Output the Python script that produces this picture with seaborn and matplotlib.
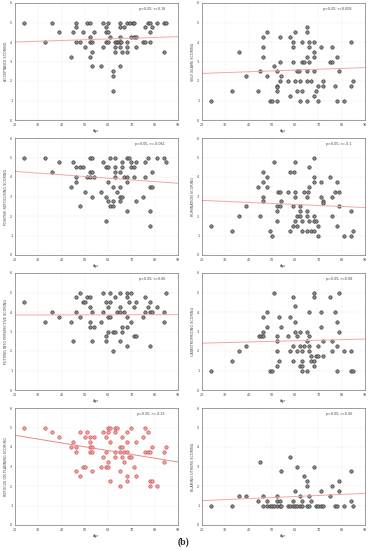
import matplotlib
matplotlib.use("Agg")
import matplotlib.pyplot as plt
import seaborn as sns
import numpy as np
import pandas as pd

# scores: score level -> ages of the respondents at that level
acceptance = {
    5.0: [24, 36, 46, 51, 52, 58, 60, 65, 68, 69.5, 70.5, 71, 77, 78, 81, 84, 85],
    4.75: [46, 59, 65, 67, 76, 79],
    4.5: [39, 45, 49, 54, 59, 60, 78],
    4.25: [52, 61, 65, 70, 71, 72],
    4.0: [33, 46, 48, 52, 53, 59, 60, 63, 63.6, 64.3, 65, 65.7, 68, 75, 76, 78],
    3.75: [50, 58, 63, 65, 68, 72],
    3.5: [53, 63, 66, 68, 84],
    3.25: [44, 52],
    2.75: [53, 57, 65],
    2.5: [62],
    2.25: [62],
    1.5: [62],
}
self_blame = {
    4.75: [65],
    4.5: [48, 60, 65],
    4.25: [46, 53.5, 58],
    4.0: [59, 63, 66, 68, 84],
    3.75: [46, 59, 66, 71, 76],
    3.5: [36, 68],
    3.25: [46, 65, 68, 78],
    3.0: [53.5, 59, 63, 64, 66, 75, 76],
    2.75: [51],
    2.5: [45, 52, 60.7, 61.5, 65, 68, 79],
    2.25: [39, 48, 54],
    2.0: [53.5, 57, 60, 62, 65, 67, 72, 85],
    1.75: [52, 70, 72, 77, 84],
    1.67: [52],
    1.5: [33, 44, 52, 61, 63, 69],
    1.25: [58, 68],
    1.0: [24, 49, 50, 52, 62, 65, 70, 78, 81],
}
positive_refocusing = {
    5.0: [24, 33, 52, 53, 61, 63, 68, 69, 77, 81, 84],
    4.75: [39, 45, 58, 66, 70, 72, 76, 85],
    4.5: [46, 48, 49, 59, 60, 63, 66, 70, 71],
    4.25: [36, 52, 53, 63, 65, 79],
    4.0: [46, 51, 52, 54, 63, 67, 68, 71, 76],
    3.75: [46, 60, 68],
    3.5: [44, 62, 65, 78, 79],
    3.25: [50, 57, 64],
    3.0: [53, 59, 65, 66, 75],
    2.75: [60, 62, 65, 72],
    2.5: [48, 61, 62],
    2.25: [68, 78],
    1.75: [59],
    1.5: [78],
}
rumination = {
    5.0: [68],
    4.75: [51, 60],
    4.5: [66],
    4.25: [46, 58, 59.4],
    4.0: [48, 68, 75],
    3.75: [46, 68, 71, 78],
    3.5: [44, 48, 66],
    3.25: [52.5, 53.4, 57, 60, 64, 65.4, 77, 79],
    3.0: [46, 60, 65, 71, 76],
    2.75: [46, 54, 72],
    2.67: [72],
    2.5: [39, 52.4, 53.4, 59, 62, 79],
    2.25: [52, 62, 65, 84],
    2.0: [36, 45, 61, 62, 65, 68, 76],
    1.75: [52, 60, 63, 66, 68, 69],
    1.5: [24, 59, 61, 70, 78],
    1.25: [33, 49, 58, 63, 65, 67, 68, 85],
    1.0: [50, 70, 81, 84],
}
putting_into_perspective = {
    5.0: [48, 58, 61, 65, 68, 70, 85],
    4.75: [46, 51, 52, 63, 68, 76],
    4.5: [24, 49, 50, 59, 61, 69, 72, 78],
    4.25: [52, 60, 65, 71, 77, 81],
    4.0: [36, 46, 53, 58, 64, 65, 67, 76, 78, 79, 84],
    3.75: [39, 48, 60, 61, 68, 75],
    3.5: [33, 44, 52, 57, 70, 84],
    3.25: [52, 54, 66, 68],
    3.0: [60, 62, 63, 66],
    2.75: [59, 71, 72],
    2.5: [45, 53, 59, 65],
    2.25: [68, 78],
    2.0: [62],
}
catastrophizing = {
    5.0: [51, 68, 79],
    4.75: [59, 68, 75],
    4.3: [60],
    4.0: [48, 66, 71, 77],
    3.75: [46, 53, 58],
    3.5: [60, 78],
    3.25: [48, 54, 71],
    3.0: [46, 60, 62, 65, 79],
    2.75: [44.3, 45.3, 46.3, 52, 57, 61, 66],
    2.5: [52, 65, 72, 76],
    2.25: [39, 59, 62, 64, 66, 70, 78],
    2.0: [36, 52, 58, 61, 63, 66, 76, 81, 84],
    1.75: [67, 69, 70, 72],
    1.5: [33, 53, 59, 63, 67, 68],
    1.25: [52, 62, 63, 68],
    1.0: [24, 49, 50, 63, 65, 78, 84, 85],
}
refocus_on_planning = {
    5.0: [24, 33, 60, 61, 63, 64, 70, 76],
    4.75: [36, 48, 51, 58, 60, 63, 68, 77],
    4.5: [39, 50, 52, 54, 59, 66, 75],
    4.25: [45, 52, 61, 68, 72],
    4.0: [44, 46, 52, 53, 65, 66, 79, 85],
    3.75: [46, 52, 53, 59, 63, 65, 67, 68, 76, 77, 78, 84],
    3.5: [58, 63, 66, 69, 70],
    3.25: [60, 67, 84],
    3.0: [49, 50, 57, 59, 60, 71],
    2.75: [46, 53, 65],
    2.5: [48, 68, 72],
    2.25: [61, 68, 78, 79],
    2.0: [65, 78, 81],
}
blaming_others = {
    3.5: [58],
    3.25: [45],
    3.0: [61, 68],
    2.75: [54, 84],
    2.5: [64],
    2.25: [65, 79],
    2.0: [65, 76],
    1.75: [60, 71, 79],
    1.5: [36, 39, 46, 52, 62, 66, 75],
    1.25: [44, 48, 52, 53.4, 59, 63, 67, 84],
    1.0: [24, 33, 46, 48, 49, 50, 51, 52, 53.4, 54, 57, 58, 59, 60, 61, 62, 63,
          65, 66, 69, 70, 71, 72, 77, 78, 81, 85],
}

panels = [acceptance, self_blame, positive_refocusing, rumination,
          putting_into_perspective, catastrophizing, refocus_on_planning, blaming_others]
ylabels = ["ACCEPTANCE SCORING", "SELF-BLAME SCORING", "POSITIVE REFOCUSING SCORING",
           "RUMINATION SCORING", "PUTTING INTO PERSPECTIVE SCORING", "CATASTROPHIZING SCORING",
           "REFOCUS ON PLANNING SCORING", "BLAMING OTHERS SCORING"]
stats = ["p>0.05; r=0.16", "p>0.05; r=0.008", "p>0.05; r=-0.061", "p>0.05; r=-0.1",
         "p>0.05; r=0.06", "p>0.05; r=0.08", "p<0.05; r=-0.25", "p>0.05; r=0.06"]
significant = [False, False, False, False, False, False, True, False]
x_ticks = [20, 30, 40, 50, 60, 70, 80, 90]
y_ticks = [0, 1, 2, 3, 4, 5, 6]


def to_frame(levels: dict) -> pd.DataFrame:
    rows = [(age, score) for score, ages in levels.items() for age in ages]
    return pd.DataFrame(rows, columns=["Age", "Score"])


sns.set_style("white")
plt.rcParams["font.family"] = ["DejaVu Sans"]

fig = plt.figure(figsize=(3.69, 5.5), dpi=100)

lefts = [15, 202]
tops = [3, 138, 273, 408]
W, H = 163, 117
fs = 2.4

for i, levels in enumerate(panels):
    row, col = divmod(i, 2)
    ax = fig.add_axes([lefts[col] / 369, 1 - (tops[row] + H) / 550, W / 369, H / 550])
    ax.set_xlim(20, 90)
    ax.set_ylim(0, 6)
    df = to_frame(levels)

    if significant[i]:
        face, edge, line = "#f2a7a7", "#cc4444", "#e88a8a"
    else:
        face, edge, line = "#8c8c8c", "#333333", "#f0a8a8"

    sns.regplot(
        data=df, x="Age", y="Score", ax=ax, ci=None, truncate=False,
        scatter_kws={"s": 6, "color": face, "edgecolor": edge, "linewidths": 0.45, "alpha": 1},
        line_kws={"color": line, "lw": 0.7},
    )
    ax.set_xlim(20, 90)
    ax.set_ylim(0, 6)
    ax.set_xticks(x_ticks)
    ax.set_yticks(y_ticks)
    ax.tick_params(labelsize=fs, length=1, width=0.3, pad=1, color="#666666", labelcolor="#444444")
    ax.grid(True, color="#d9d9d9", lw=0.35, ls=":")
    ax.set_axisbelow(True)
    for s in ax.spines.values():
        s.set_color("#555555")
        s.set_linewidth(0.4)
    ax.set_xlabel("Age", fontsize=fs, labelpad=1.5, color="#444444")
    ax.set_ylabel(ylabels[i], fontsize=fs, labelpad=1.5, color="#444444")
    ax.text(0.92, 0.965, stats[i], transform=ax.transAxes, ha="right", va="top",
            fontsize=fs, color="#444444")

fig.text(183 / 369, 1 - 542 / 550, "(b)", ha="center", va="center",
         fontsize=7, fontweight="bold", family="Liberation Serif")

fig.savefig("out.png", dpi=100)
